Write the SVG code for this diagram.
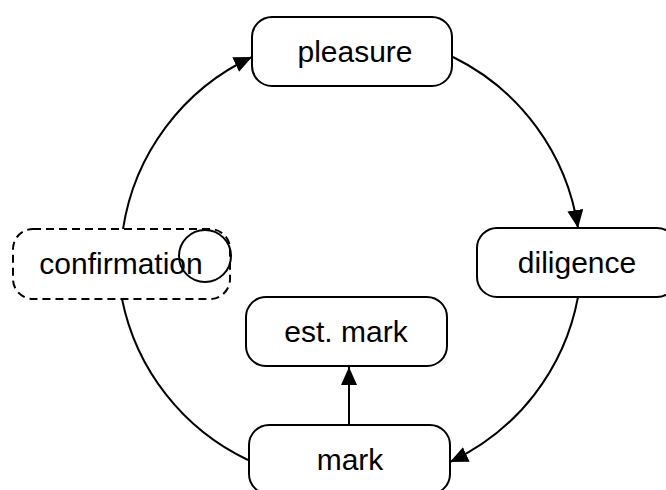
<svg xmlns="http://www.w3.org/2000/svg" width="666" height="490" viewBox="0 0 666 490">
<style>
.node{fill:#fff;stroke:#000;stroke-width:2}
.dashed{fill:#fff;stroke:#000;stroke-width:2;stroke-dasharray:8 5}
.lbl{font-family:"Liberation Sans",Arial,sans-serif;font-size:30px;fill:#000;text-anchor:middle}
.edge{fill:none;stroke:#000;stroke-width:2}
</style>
<defs>
<marker id="arr" markerUnits="userSpaceOnUse" markerWidth="20" markerHeight="18" refX="18" refY="8" orient="auto">
<path d="M0,0 L18,8 L0,16 z" fill="#000"/>
</marker>
</defs>
<g id="connectors">
<path class="edge" d="M123,229 A228,228 0 0 1 252,57" marker-end="url(#arr)"/>
<path class="edge" d="M453,57 A228,228 0 0 1 578,228" marker-end="url(#arr)"/>
<path class="edge" d="M578,297 A228,228 0 0 1 450,462" marker-end="url(#arr)"/>
<path class="edge" d="M122,299 A228,228 0 0 0 248,460"/>
<path class="edge" d="M349,425 L349,367" marker-end="url(#arr)"/>
</g>
<g id="pleasure">
<rect class="node" x="252" y="17" width="200" height="69" rx="20"/>
<text class="lbl" x="355" y="62">pleasure</text>
</g>
<g id="diligence">
<rect class="node" x="477" y="228" width="200" height="69" rx="20"/>
<text class="lbl" x="577" y="273">diligence</text>
</g>
<g id="confirmation">
<rect class="dashed" x="13" y="229" width="217" height="70" rx="20"/>
<text class="lbl" x="121" y="274">confirmation</text>
<circle cx="205" cy="256" r="26" fill="none" stroke="#000" stroke-width="2"/>
</g>
<g id="est-mark">
<rect class="node" x="246" y="297" width="201" height="69" rx="20"/>
<text class="lbl" x="346" y="342">est. mark</text>
</g>
<g id="mark">
<rect class="node" x="249" y="425" width="201" height="69" rx="20"/>
<text class="lbl" x="350" y="470">mark</text>
</g>
</svg>
